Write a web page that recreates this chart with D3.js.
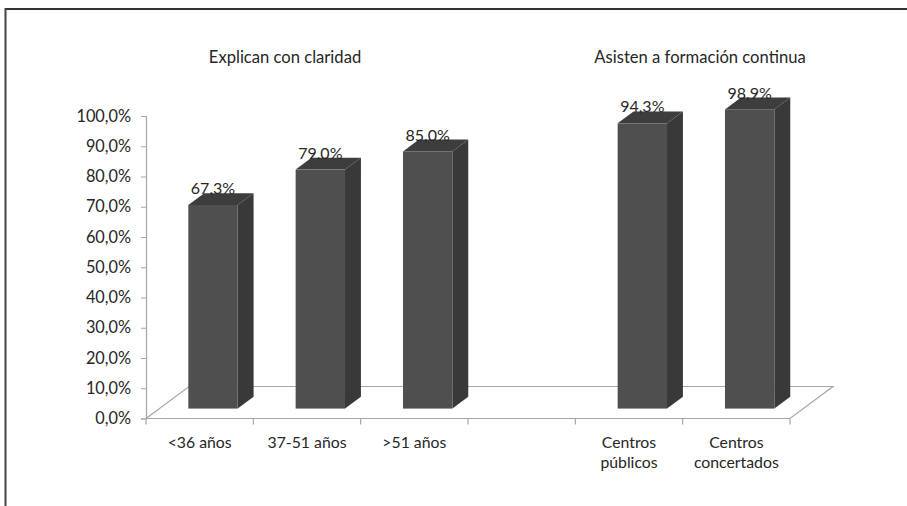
<!DOCTYPE html>
<html>
<head>
<meta charset="utf-8">
<script src="https://cdn.jsdelivr.net/npm/d3@7"></script>
<style>
  html, body { margin: 0; padding: 0; background: #fff; }
  svg { display: block; }
  text { font-family: Lato, "Open Sans", sans-serif; fill: #262626; }
</style>
</head>
<body>
<svg id="chart" width="907" height="506"></svg>
<script>
// ---- data ----
const categories = ["<36 años", "37-51 años", ">51 años", "", "Centros\npúblicos", "Centros\nconcertados"];
const values = [67.3, 79.0, 85.0, null, 94.3, 98.9];
const groupTitles = ["Explican con claridad", "Asisten a formación continua"];
const yTicks = [0, 10, 20, 30, 40, 50, 60, 70, 80, 90, 100];

// ---- layout ----
const W = 907, H = 506;
const svg = d3.select("#chart");
const fmt = v => d3.format(".1f")(v).replace(".", ",") + "%";

const x = d3.scaleBand().domain(d3.range(categories.length)).range([146, 790]).padding(0);
const y = d3.scaleLinear().domain([0, 100]).range([418.5, 116]);

const depth = { dx: 43, dy: -32 };      // floor depth vector
const f0 = 0.31, f1 = 0.68;              // bar front/back depth fractions
const barW = x.bandwidth() * 0.46;

// frame
svg.append("line").attr("x1", 5).attr("x2", W).attr("y1", 9).attr("y2", 9)
  .attr("stroke", "#333").attr("stroke-width", 2);
svg.append("line").attr("x1", 5.5).attr("x2", 5.5).attr("y1", 8).attr("y2", H)
  .attr("stroke", "#444").attr("stroke-width", 2);

const gray = "#a6a6a6";
const x0 = x.range()[0], x1 = x.range()[1], yb = y(0);

// floor parallelogram
svg.append("path")
  .attr("d", d3.line()([[x0, yb], [x1, yb], [x1 + depth.dx, yb + depth.dy], [x0 + depth.dx, yb + depth.dy], [x0, yb]]))
  .attr("fill", "none").attr("stroke", gray).attr("stroke-width", 1.2);

// y axis
const yAxis = d3.axisLeft(y).tickValues(yTicks).tickSize(5).tickPadding(10).tickFormat(fmt);
const gy = svg.append("g").attr("transform", `translate(${x0},0)`).call(yAxis);
gy.select(".domain").attr("stroke", gray).attr("stroke-width", 1.2);
gy.selectAll(".tick line").attr("stroke", gray);
gy.selectAll(".tick text").attr("font-size", 16.3).attr("fill", "#262626")
  .style("font-family", "Lato, 'Open Sans', sans-serif");

// x axis ticks at band boundaries
const bounds = d3.range(categories.length + 1).map(i => x0 + i * x.step());
svg.selectAll(".xt").data(bounds).join("line")
  .attr("x1", d => d).attr("x2", d => d).attr("y1", yb).attr("y2", yb + 6)
  .attr("stroke", gray).attr("stroke-width", 1.2);

// bars
const bars = categories.map((c, i) => ({ i, v: values[i] })).filter(d => d.v != null);
const g = svg.append("g");
bars.forEach(d => {
  const fx = x(d.i) + (x.bandwidth() - barW) / 2 + depth.dx * f0;
  const fyb = yb + depth.dy * f0;
  const h = y(0) - y(d.v);
  const ft = fyb - h;
  const ddx = depth.dx * (f1 - f0), ddy = depth.dy * (f1 - f0);
  // side
  g.append("path").attr("d", d3.line()([[fx + barW, fyb], [fx + barW + ddx, fyb + ddy], [fx + barW + ddx, ft + ddy], [fx + barW, ft]]))
    .attr("fill", "#393939");
  // top
  g.append("path").attr("d", d3.line()([[fx, ft], [fx + barW, ft], [fx + barW + ddx, ft + ddy], [fx + ddx, ft + ddy]]))
    .attr("fill", "#3d3d3d");
  // front
  g.append("rect").attr("x", fx).attr("y", ft).attr("width", barW).attr("height", h)
    .attr("fill", "#4f4f4f");
  // value label
  g.append("text").attr("x", fx + barW / 2).attr("y", ft + ddy + 1)
    .attr("text-anchor", "middle").attr("font-size", 16).text(fmt(d.v));
});

// category labels
categories.forEach((c, i) => {
  if (!c) return;
  const lines = c.split("\n");
  const t = svg.append("text").attr("text-anchor", "middle").attr("font-size", 15.8);
  lines.forEach((ln, k) => {
    t.append("tspan").attr("x", x(i) + x.bandwidth() / 2).attr("y", 448 + k * 20).text(ln);
  });
});

// group titles
svg.append("text").attr("x", 285).attr("y", 62.5).attr("text-anchor", "middle")
  .attr("font-size", 16.6).text(groupTitles[0]);
svg.append("text").attr("x", 700).attr("y", 62.5).attr("text-anchor", "middle")
  .attr("font-size", 16.6).text(groupTitles[1]);
</script>
</body>
</html>
